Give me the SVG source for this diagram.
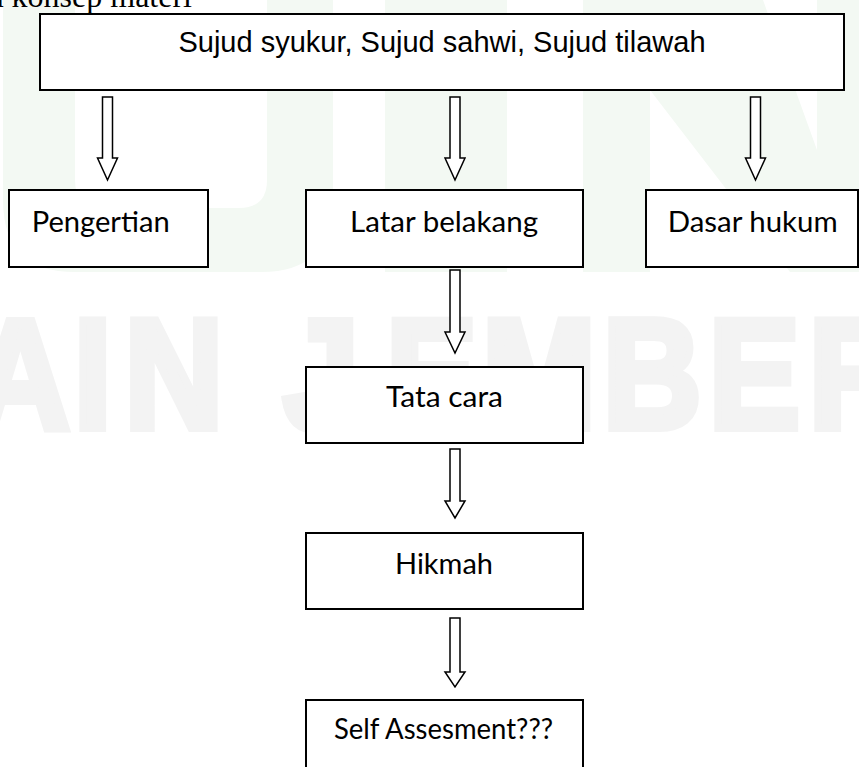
<svg xmlns="http://www.w3.org/2000/svg" width="859" height="767" viewBox="0 0 859 767">
  <style>
    .box { fill: #ffffff; stroke: #000000; stroke-width: 2; }
    .arrow { fill: #ffffff; stroke: #000000; stroke-width: 1.5; stroke-linejoin: miter; }
    .lbl { font-family: Lato, "Open Sans", sans-serif; font-size: 29px; fill: #000000; }
    .head { font-family: "Liberation Sans", Arial, sans-serif; font-size: 29px; fill: #000000; }
    .serif { font-family: "Liberation Serif", "Times New Roman", serif; font-size: 32px; fill: #000000; }
    .wm { font-family: "Liberation Sans", Arial, sans-serif; font-weight: bold; font-size: 156.5px; fill: #f3f3f3; stroke: #f3f3f3; stroke-width: 8; stroke-linejoin: miter; }
    .wmg { fill: #f3f9f3; }
  </style>
  <rect x="0" y="0" width="859" height="767" fill="#ffffff"/>
  <g id="watermark-logo">
    <path class="wmg" d="M3,0 H75 V180 Q75,208 103,208 H239 Q267,208 267,180 V0 H333 V200 Q333,272 261,272 H75 Q3,272 3,200 Z"/>
    <rect class="wmg" x="385" y="0" width="122" height="272"/>
    <polygon class="wmg" points="583,0 763,0 817,150 817,0 859,0 859,272 790,272 650,90 650,272 583,272"/>
  </g>
  <g id="watermark" transform="scale(0.874,1)">
    <text class="wm" y="427.7" x="-33.2 84.4 142.6 323.8 441.6 551.5 689.6 810.9 925.3">AINJEMBER</text>
  </g>
  <text class="serif" x="-10.6" y="7">a konsep materi</text>

  <g id="connectors">
    <path class="arrow" d="M102.5,97 H112.5 V158 H117.5 L107.5,180 L97.5,158 H102.5 Z"/>
    <path class="arrow" d="M450,97 H460 V158 H465 L455,180 L445,158 H450 Z"/>
    <path class="arrow" d="M750.5,97 H760.5 V158 H765.5 L755.5,180 L745.5,158 H750.5 Z"/>
    <path class="arrow" d="M450,270 H460 V332 H465 L455,353 L445,332 H450 Z"/>
    <path class="arrow" d="M450,449 H460 V501 H465 L455,518 L445,501 H450 Z"/>
    <path class="arrow" d="M450,618 H460 V672 H465 L455,687 L445,672 H450 Z"/>
  </g>

  <g id="node-sujud">
    <rect class="box" x="40" y="14" width="804" height="76"/>
    <text class="head" x="442" y="52" text-anchor="middle">Sujud syukur, Sujud sahwi, Sujud tilawah</text>
  </g>
  <g id="node-pengertian">
    <rect class="box" x="9" y="190" width="199" height="77"/>
    <text class="lbl" x="31.7" y="231.7" textLength="138" lengthAdjust="spacingAndGlyphs">Pengertian</text>
  </g>
  <g id="node-latar">
    <rect class="box" x="306" y="190" width="277" height="77"/>
    <text class="lbl" x="350" y="231.7" textLength="188" lengthAdjust="spacingAndGlyphs">Latar belakang</text>
  </g>
  <g id="node-dasar">
    <rect class="box" x="646" y="190" width="212" height="77"/>
    <text class="lbl" x="667.7" y="231.7" textLength="170" lengthAdjust="spacingAndGlyphs">Dasar hukum</text>
  </g>
  <g id="node-tatacara">
    <rect class="box" x="306" y="367" width="277" height="76"/>
    <text class="lbl" x="386" y="406.7" textLength="117" lengthAdjust="spacingAndGlyphs">Tata cara</text>
  </g>
  <g id="node-hikmah">
    <rect class="box" x="306" y="533" width="277" height="76"/>
    <text class="lbl" x="395" y="574" textLength="98" lengthAdjust="spacingAndGlyphs">Hikmah</text>
  </g>
  <g id="node-self">
    <rect class="box" x="306" y="700" width="277" height="90"/>
    <text class="lbl" x="334" y="739.3" textLength="219" lengthAdjust="spacingAndGlyphs">Self Assesment???</text>
  </g>
</svg>
